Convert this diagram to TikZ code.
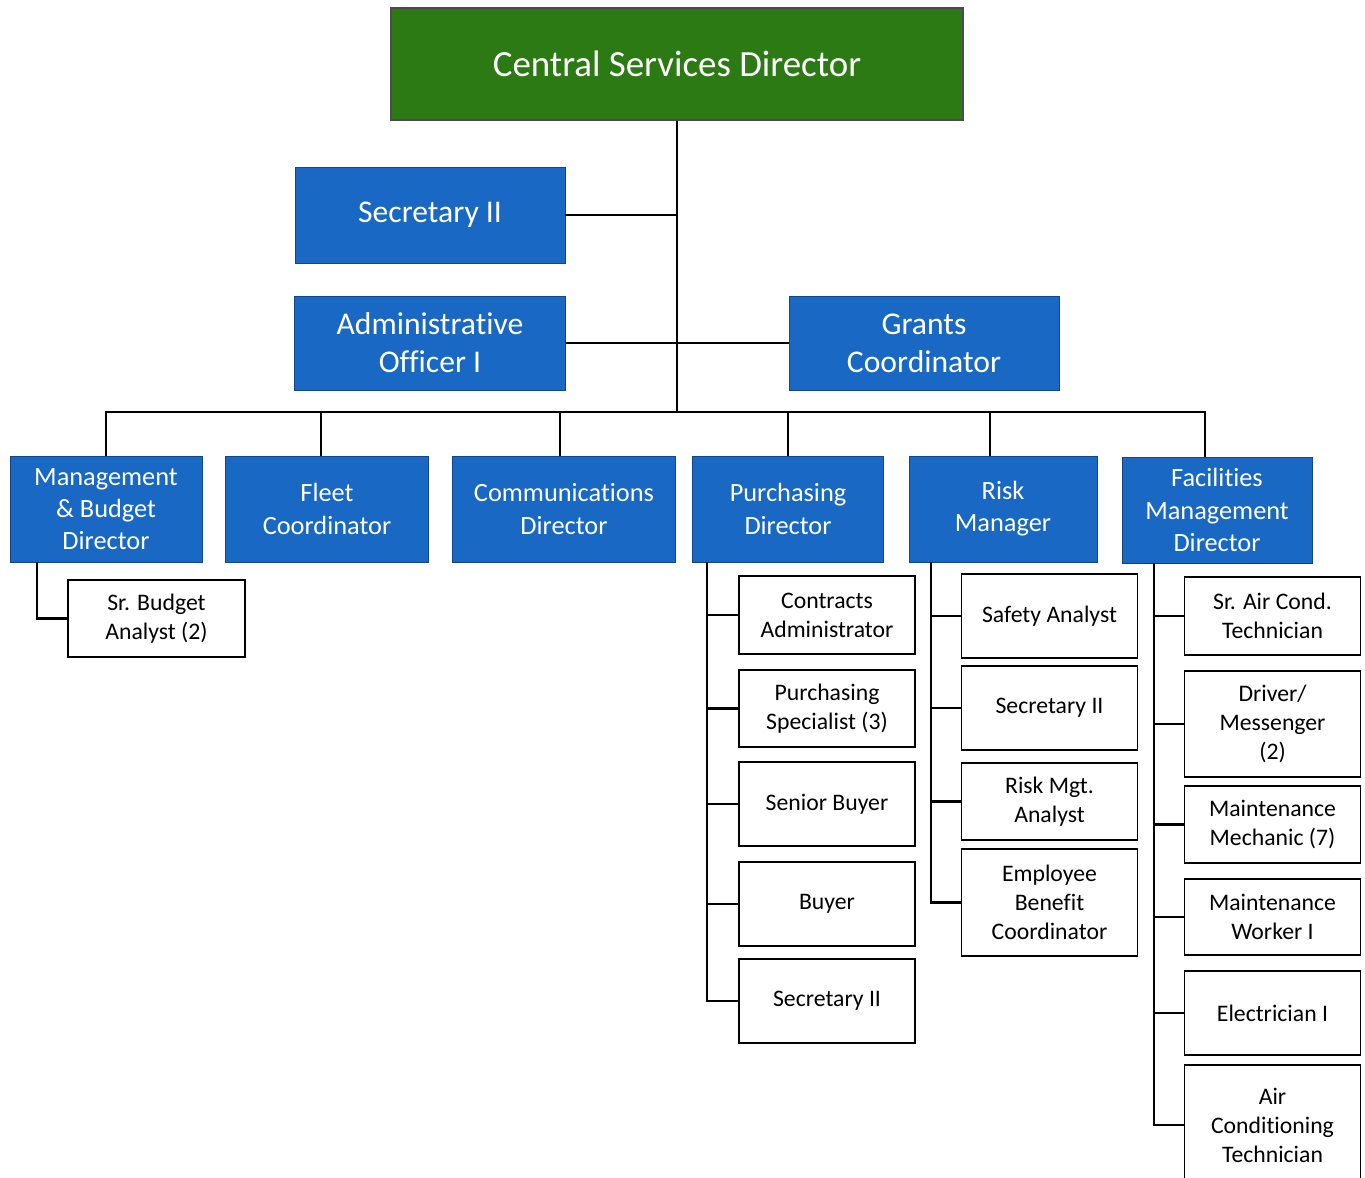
\documentclass[tikz,border=0pt]{standalone}
\usepackage{fontspec}
\setmainfont{Carlito}[Ligatures=NoCommon]
\definecolor{headgreen}{RGB}{44,122,20}
\definecolor{unitblue}{RGB}{24,104,196}
\definecolor{unitedge}{RGB}{18,70,140}
\tikzset{
  head/.style={draw=black!70, fill=headgreen, text=white, line width=1pt,
    font=\fontsize{21}{25}\selectfont},
  office/.style={draw=unitedge, fill=unitblue, text=white, align=center,
    font=\fontsize{18}{21.6}\selectfont},
  unit/.style={draw=unitedge, fill=unitblue, text=white, align=center,
    minimum height=2.12cm, font=\fontsize{15}{18.3}\selectfont},
  post/.style={draw, fill=white, line width=1pt, align=center,
    minimum width=3.52cm, font=\fontsize{13.5}{16.5}\selectfont},
  link/.style={line width=1.3pt}
}
\begin{document}
\begin{tikzpicture}[x=0.02cm, y=-0.02cm]
    \useasboundingbox (0,0) rectangle (1365,1177);

    % director and staff offices
    \node[head, minimum width=11.44cm, minimum height=2.24cm] (csd) at (677,64) {Central Services Director};
    \node[office, minimum width=5.4cm, minimum height=1.92cm] (sec) at (430,215) {Secretary II};
    \node[office, minimum width=5.42cm, minimum height=1.88cm] (ado) at (430,343) {Administrative\\Officer I};
    \node[office, minimum width=5.4cm, minimum height=1.88cm] (grc) at (924,343) {Grants\\Coordinator};
    \coordinate (bus) at (677,412);

    \draw[link] (csd.south) -- (bus);
    \draw[link] (sec.east) -- (sec.east -| bus);
    \draw[link] (ado.east) -- (grc.west);

    % divisions
    \node[unit, minimum width=3.84cm] (mbd) at (106,509) {Management\\\& Budget\\Director};
    \node[unit, minimum width=4.06cm] (flc) at (327,509) {Fleet\\Coordinator};
    \node[unit, minimum width=4.46cm] (cmd) at (564,509) {Communications\\Director};
    \node[unit, minimum width=3.82cm] (pud) at (788,509) {Purchasing\\Director};
    \node[unit, minimum width=3.76cm] (rkm) at (1003,509) {Risk\\Manager};
    \node[unit, minimum width=3.8cm] (fmd) at (1217,510) {Facilities\\Management\\Director};

    \draw[link] (mbd.north) |- ([xshift=-0.24cm]fmd.north |- bus) -- ([xshift=-0.24cm]fmd.north);
    \draw[link] ([xshift=-0.12cm]flc.north) -- ([xshift=-0.12cm]flc.north |- bus);
    \draw[link] ([xshift=-0.08cm]cmd.north) -- ([xshift=-0.08cm]cmd.north |- bus);
    \draw[link] (pud.north) -- (pud.north |- bus);
    \draw[link] ([xshift=-0.26cm]rkm.north) -- ([xshift=-0.26cm]rkm.north |- bus);

    % budget staff
    \node[post, minimum width=3.54cm, minimum height=1.54cm] (sba) at (156.5,618.5) {Sr. Budget\\Analyst (2)};
    \draw[link] ([xshift=0.54cm]mbd.south west) |- (sba.west);

    % purchasing staff
    \node[post, minimum height=1.56cm] (cta) at (827,615) {Contracts\\Administrator};
    \node[post, minimum height=1.54cm] (pus) at (827,708.5) {Purchasing\\Specialist (3)};
    \node[post, minimum height=1.68cm] (snb) at (827,804) {Senior Buyer};
    \node[post, minimum height=1.68cm] (buy) at (827,904) {Buyer};
    \node[post, minimum height=1.68cm] (pse) at (827,1001) {Secretary II};
    \foreach \n in {cta,pus,snb,buy,pse}
      \draw[link] ([xshift=0.3cm]pud.south west) |- (\n.west);

    % risk staff
    \node[post, minimum height=1.68cm] (saf) at (1049.5,616) {Safety Analyst};
    \node[post, minimum height=1.68cm] (rse) at (1049.5,708) {Secretary II};
    \node[post, minimum height=1.54cm] (rma) at (1049.5,801.5) {Risk Mgt.\\Analyst};
    \node[post, minimum height=2.14cm] (ebc) at (1049.5,902.5) {Employee\\Benefit\\Coordinator};
    \foreach \n in {saf,rse,rma,ebc}
      \draw[link] ([xshift=0.44cm]rkm.south west) |- (\n.west);

    % facilities staff
    \node[post, minimum height=1.56cm] (sac) at (1272.5,616) {Sr. Air Cond.\\Technician};
    \node[post, minimum height=2.12cm] (drv) at (1272.5,724) {Driver/\\Messenger\\(2)};
    \node[post, minimum height=1.54cm] (mmc) at (1272.5,824.5) {Maintenance\\Mechanic (7)};
    \node[post, minimum height=1.52cm] (mwk) at (1272.5,917) {Maintenance\\Worker I};
    \node[post, minimum height=1.68cm] (elc) at (1272.5,1013) {Electrician I};
    \node[post, minimum height=2.4cm] (act) at (1272.5,1125) {Air\\Conditioning\\Technician};
    \foreach \n in {sac,drv,mmc,mwk,elc,act}
      \draw[link] ([xshift=0.64cm]fmd.south west) |- (\n.west);
\end{tikzpicture}
\end{document}
